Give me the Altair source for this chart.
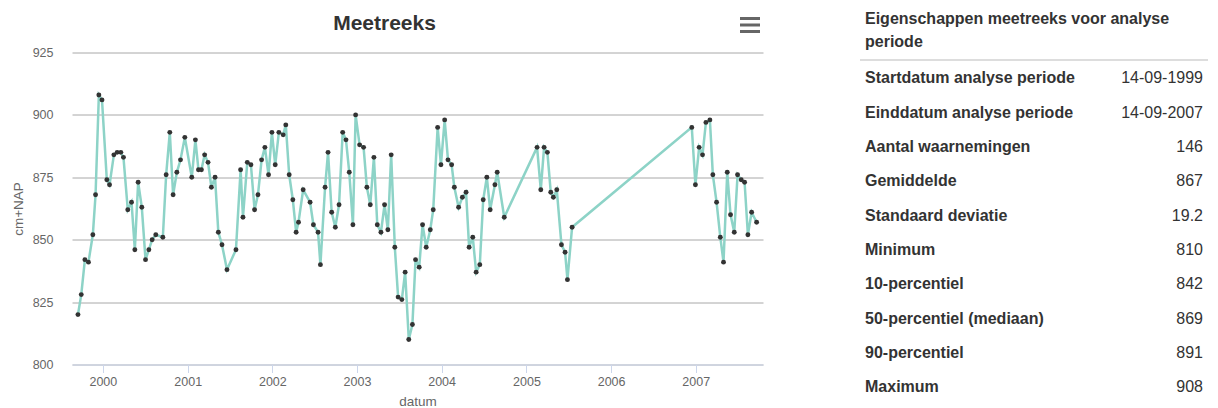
import altair as alt
import pandas as pd

# ---- data (decimal years, cm+NAP) ----
t_year = [
    1999.706, 1999.745, 1999.788, 1999.830, 1999.882, 1999.914, 1999.953, 1999.990,
    2000.047, 2000.079, 2000.130, 2000.169, 2000.212, 2000.243, 2000.294, 2000.338,
    2000.377, 2000.416, 2000.459, 2000.503, 2000.542, 2000.581, 2000.624, 2000.707,
    2000.746, 2000.789, 2000.828, 2000.872, 2000.915, 2000.966, 2001.048, 2001.091,
    2001.127, 2001.162, 2001.200, 2001.240, 2001.280, 2001.323, 2001.362, 2001.405,
    2001.464, 2001.570, 2001.625, 2001.653, 2001.704, 2001.747, 2001.790, 2001.830,
    2001.873, 2001.912, 2001.955, 2001.995, 2002.034, 2002.077, 2002.128, 2002.159,
    2002.199, 2002.242, 2002.281, 2002.309, 2002.364, 2002.446, 2002.485, 2002.540,
    2002.568, 2002.623, 2002.658, 2002.701, 2002.744, 2002.788, 2002.831, 2002.870,
    2002.909, 2002.952, 2002.984, 2003.031, 2003.078, 2003.117, 2003.157, 2003.200,
    2003.240, 2003.283, 2003.326, 2003.365, 2003.404, 2003.447, 2003.486, 2003.530,
    2003.569, 2003.612, 2003.655, 2003.692, 2003.735, 2003.775, 2003.818, 2003.866,
    2003.901, 2003.953, 2003.992, 2004.036, 2004.075, 2004.118, 2004.150, 2004.200,
    2004.245, 2004.288, 2004.324, 2004.367, 2004.407, 2004.450, 2004.490, 2004.533,
    2004.572, 2004.628, 2004.655, 2004.738, 2005.125, 2005.169, 2005.208, 2005.247,
    2005.287, 2005.318, 2005.358, 2005.413, 2005.456, 2005.484, 2005.539, 2006.953,
    2006.996, 2007.040, 2007.080, 2007.120, 2007.167, 2007.202, 2007.246, 2007.290,
    2007.328, 2007.372, 2007.411, 2007.455, 2007.494, 2007.537, 2007.577, 2007.616,
    2007.660, 2007.719,
]
level = [
    820, 828, 842, 841, 852, 868, 908, 906,
    874, 872, 884, 885, 885, 883, 862, 865,
    846, 873, 863, 842, 846, 850, 852, 851,
    876, 893, 868, 877, 882, 891, 875, 890,
    878, 878, 884, 881, 871, 875, 853, 848,
    838, 846, 878, 859, 881, 880, 862, 868,
    882, 887, 876, 893, 880, 893, 892, 896,
    876, 866, 853, 857, 870, 865, 856, 853,
    840, 871, 885, 861, 855, 864, 893, 890,
    877, 856, 900, 888, 887, 871, 864, 883,
    856, 853, 864, 854, 884, 847, 827, 826,
    837, 810, 816, 842, 839, 856, 847, 854,
    862, 895, 880, 898, 882, 880, 871, 863,
    867, 869, 847, 851, 837, 840, 866, 875,
    862, 872, 877, 859, 887, 870, 887, 885,
    869, 867, 870, 848, 845, 834, 855, 895,
    872, 887, 884, 897, 898, 876, 865, 851,
    841, 877, 860, 853, 876, 874, 873, 852,
    861, 857,
]

y_ticks = [800, 825, 850, 875, 900, 925]
x_domain = ["1999-08-21", "2007-10-18"]

table_title = ["Eigenschappen meetreeks voor analyse", "periode"]
table_labels = [
    "Startdatum analyse periode", "Einddatum analyse periode", "Aantal waarnemingen",
    "Gemiddelde", "Standaard deviatie", "Minimum", "10-percentiel",
    "50-percentiel (mediaan)", "90-percentiel", "Maximum",
]
table_values = [
    "14-09-1999", "14-09-2007", "146", "867", "19.2", "810", "842", "869", "891", "908",
]


def to_date(y):
    yr = int(y)
    start = pd.Timestamp(year=yr, month=1, day=1)
    days = (pd.Timestamp(year=yr + 1, month=1, day=1) - start).days
    return start + pd.Timedelta(days=(y - yr) * days)


series = pd.DataFrame({"datum": [to_date(v) for v in t_year], "value": level})
table = pd.DataFrame({"label": table_labels, "val": table_values})
one = alt.Data(values=[{"k": 0}])

FONT = "Liberation Sans"
W, H = 691, 312

x_enc = alt.X(
    "datum:T",
    scale=alt.Scale(domain=x_domain, nice=False),
    axis=alt.Axis(
        title="datum", format="%Y", tickCount={"interval": "year", "step": 1},
        grid=False, domainColor="#ccd6eb", tickColor="#ccd6eb", tickSize=8,
        labelColor="#666666", labelFontSize=12.5, labelPadding=3, labelFont=FONT,
        titleColor="#666666", titleFontSize=13.5, titleFontWeight="normal", titleFont=FONT,
        titleY=41, titleBaseline="alphabetic",
    ),
)
y_enc = alt.Y(
    "value:Q",
    scale=alt.Scale(domain=[800, 925], nice=False, zero=False),
    axis=alt.Axis(
        title="cm+NAP", values=y_ticks, grid=True, gridColor="#a8a8a8", gridWidth=1,
        domain=False, ticks=False, tickSize=0, labelPadding=19, labelColor="#666666",
        labelFontSize=12.5, labelFont=FONT, titleColor="#666666", titleFontSize=13.5,
        titleFontWeight="normal", titleFont=FONT, titleX=-50, titleBaseline="alphabetic",
    ),
)

line = alt.Chart(series).mark_line(color="#8dd3c7", strokeWidth=2.5).encode(x=x_enc, y=y_enc)
pts = alt.Chart(series).mark_circle(color="#333333", size=24, opacity=1).encode(x="datum:T", y="value:Q")
plot = alt.layer(line, pts)

row_y = alt.Y("label:N", sort=None, axis=None,
              scale=alt.Scale(type="point", range=[30.8, 339.8], padding=0))

tab_labels = alt.Chart(table).mark_text(
    align="left", baseline="alphabetic", font=FONT, fontSize=16, fontWeight="bold", color="#333333"
).encode(x=alt.value(793), y=row_y, text="label:N")
tab_values = alt.Chart(table).mark_text(
    align="right", baseline="alphabetic", font=FONT, fontSize=16, color="#333333"
).encode(x=alt.value(1131), y=row_y, text="val:N")
tab = alt.layer(tab_labels, tab_values)

header = alt.Chart(one).mark_text(
    text=table_title, align="left", baseline="alphabetic", font=FONT, fontSize=16,
    fontWeight="bold", color="#333333", lineHeight=23,
).encode(x=alt.value(793), y=alt.value(-28.5))
sep = alt.Chart(one).mark_rule(color="#dddddd", strokeWidth=2).encode(
    x=alt.value(788), x2=alt.value(1136), y=alt.value(7.5))

title = alt.Chart(one).mark_text(
    text="Meetreeks", align="center", baseline="alphabetic", font=FONT, fontSize=21,
    fontWeight="bold", color="#333333",
).encode(x=alt.value(312.5), y=alt.value(-22.5))

burger = [
    alt.Chart(one).mark_rule(color="#666666", strokeWidth=3).encode(
        x=alt.value(668), x2=alt.value(688), y=alt.value(yy))
    for yy in (-34, -27.5, -21)
]

chart = alt.layer(plot, tab, header, sep, title, *burger).resolve_scale(y="independent").properties(
    width=W, height=H,
    autosize=alt.AutoSizeParams(type="none"),
    padding={"left": 72, "top": 52.5, "right": 1218 - 72 - W, "bottom": 408 - 52.5 - H},
    background="white",
).configure_view(stroke=None)

chart.save("out.html", embed_options={"renderer": "svg", "actions": False})
